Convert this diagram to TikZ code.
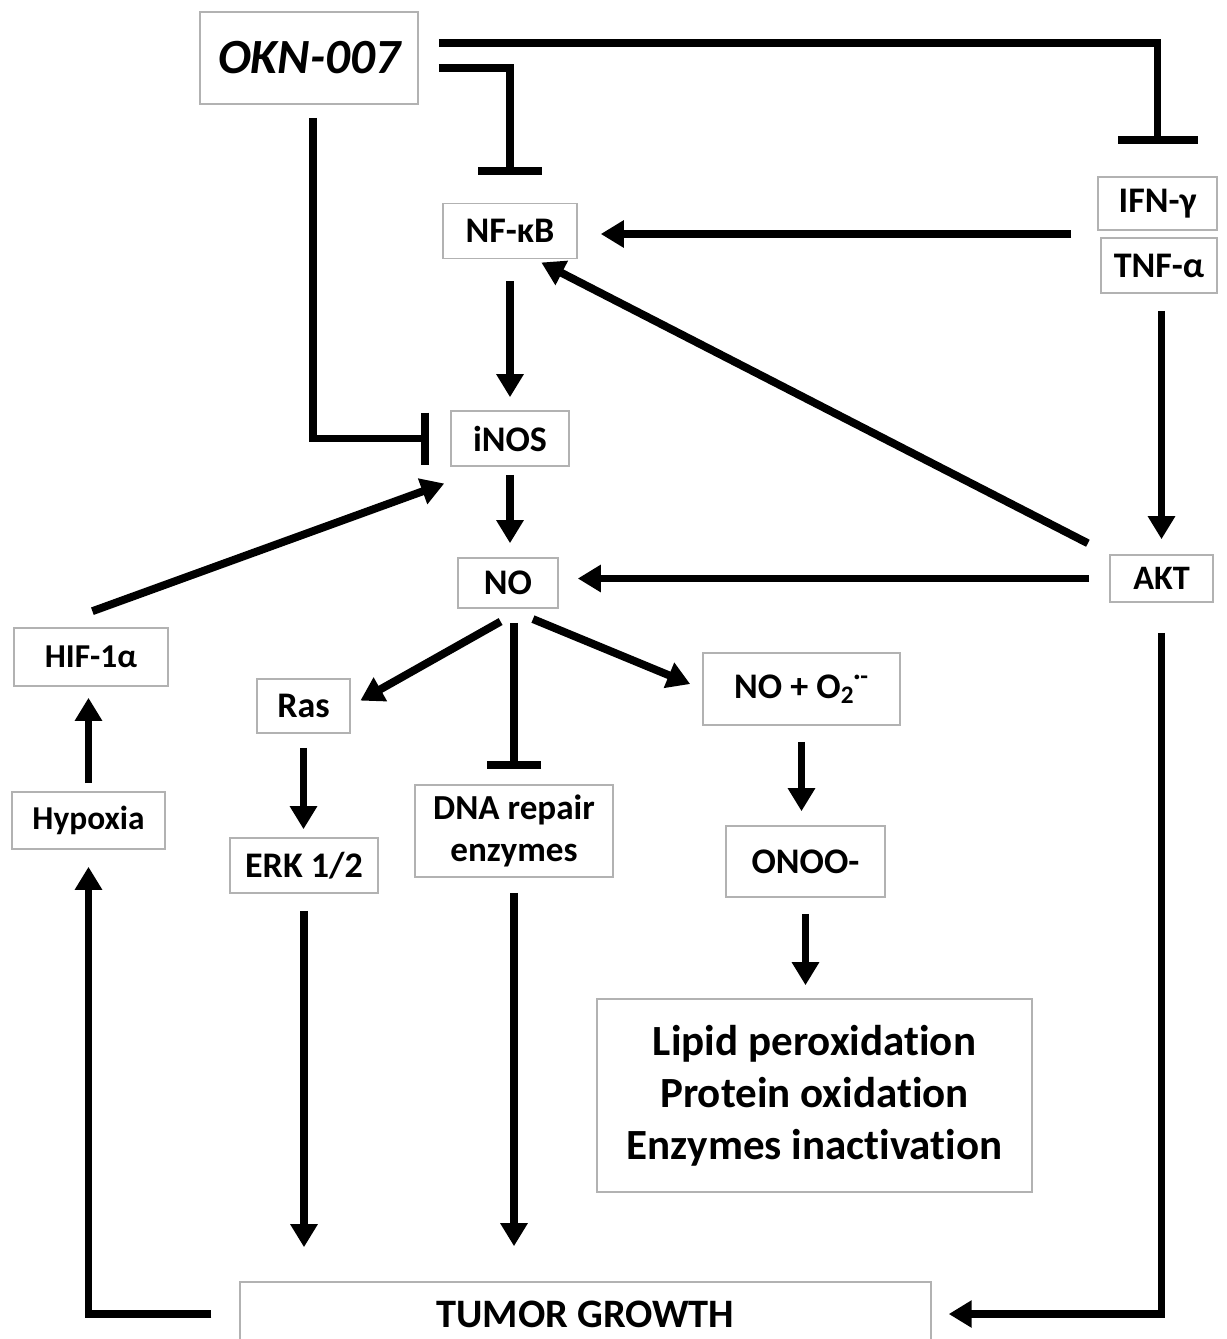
\documentclass[tikz,border=0pt]{standalone}
\usepackage{fontspec}
\setmainfont{Carlito}[Ligatures=NoCommon]
\usetikzlibrary{arrows.meta,calc}

\begin{document}
\begin{tikzpicture}[x=0.02cm, y=-0.02cm,
  box/.style={draw=gray!60, line width=0.9pt, fill=white, inner sep=0pt, align=center,
    font=\bfseries\fontsize{20.5}{24.5}\selectfont},
  act/.style={line width=4.5pt, -{Triangle[length=0.46cm, width=0.52cm]}},
  inh/.style={line width=4.5pt, -{Bar[width=#1]}}]
 \useasboundingbox (0,0) rectangle (1227,1339);
 % boxes
 \node[box, minimum width=4.36cm, minimum height=1.84cm,
   font=\bfseries\itshape\fontsize{28}{33}\selectfont] (okn) at (309,58) {OKN-007};
 \node[box, minimum width=2.68cm, minimum height=1.1cm] (nfkb) at (510,231) {NF-κB};
 \node[box, minimum width=2.38cm, minimum height=1.06cm] (ifn) at (1157.5,203.5) {IFN-γ};
 \node[box, minimum width=2.32cm, minimum height=1.1cm] (tnf) at (1159,265.5) {TNF-α};
 \node[box, minimum width=2.36cm, minimum height=1.1cm] (inos) at (510,438.5) {iNOS};
 \node[box, minimum width=2.0cm, minimum height=1.0cm] (no) at (508,583) {NO};
 \node[box, minimum width=2.06cm, minimum height=0.94cm,
   font=\bfseries\fontsize{19.5}{23}\selectfont] (akt) at (1161.5,578.5) {AKT};
 \node[box, minimum width=3.08cm, minimum height=1.16cm,
   font=\bfseries\fontsize{19}{23}\selectfont] (hif) at (91,657) {HIF-1α};
 \node[box, minimum width=1.86cm, minimum height=1.08cm] (ras) at (303.5,706) {Ras};
 \node[box, minimum width=3.94cm, minimum height=1.44cm] (nox) at (801.5,689)
   {NO + O\textsubscript{2}\kern-0.5pt\textsuperscript{·-}};
 \node[box, minimum width=3.06cm, minimum height=1.14cm,
   font=\bfseries\fontsize{19}{23}\selectfont] (hyp) at (88.5,820.5) {Hypoxia};
 \node[box, minimum width=2.96cm, minimum height=1.1cm] (erk) at (304,865.5) {ERK 1/2};
 \node[box, minimum width=3.96cm, minimum height=1.84cm,
   font=\bfseries\fontsize{20}{24}\selectfont] (dna) at (514,831) {DNA repair\\enzymes};
 \node[box, minimum width=3.18cm, minimum height=1.42cm] (onoo) at (805.5,861.5) {ONOO-};
 \node[box, minimum width=8.7cm, minimum height=3.86cm,
   font=\bfseries\fontsize{24.5}{29.5}\selectfont] (lipid) at (814.5,1095.5)
   {Lipid peroxidation\\Protein oxidation\\Enzymes inactivation};
 \node[box, minimum width=13.82cm, minimum height=1.28cm,
   font=\bfseries\fontsize{23}{28}\selectfont] (tumor) at (585.5,1314) {TUMOR GROWTH};
 % inhibitions by OKN-007
 \draw[inh=1.6cm, shorten >=0.64cm] ([shift={(20,-15)}]okn.east) -| (ifn.north);
 \draw[inh=1.28cm, shorten >=0.56cm] ([shift={(20,10)}]okn.east) -| (nfkb.north);
 \draw[inh=1.04cm, shorten >=0.42cm] ([shift={(4,13)}]okn.south) |- (inos.west);
 % upper part
 \coordinate (cyt) at ($(ifn.south west)!.5!(tnf.north west)$);
 \draw[act, shorten <=0.55cm, shorten >=0.46cm] (cyt) -- (cyt -| nfkb.east);
 \draw[act, shorten <=0.44cm, shorten >=0.26cm] (nfkb.south) -- (inos.north);
 \draw[act, shorten <=0.34cm, shorten >=0.3cm] (tnf.south -| akt.north) -- (akt.north);
 \draw[act, shorten <=0.48cm, shorten >=0.14cm] (akt.north west)
   -- ($(nfkb.south)!.37!(nfkb.south east)$);
 \draw[act, shorten <=0.16cm, shorten >=0.28cm] (inos.south) -- (inos.south |- no.north);
 \draw[act, shorten <=0.4cm, shorten >=0.38cm] (akt.west) -- (akt.west -| no.east);
 \draw[act, shorten <=0.94cm, shorten >=0.98cm] ($(hif.north west)!.45!(hif.north)$)
   -- ($(inos.south west)!.67!(inos.south)$);
 % below NO
 \draw[act, shorten <=0.52cm, shorten >=0.22cm] ($(no.south)!.3!(no.south east)$) -- (ras.east);
 \draw[inh=1.08cm, shorten <=0.28cm, shorten >=0.3cm] (no.south -| dna.north) -- (dna.north);
 \draw[act, shorten <=0.54cm, shorten >=0.26cm] (no.south) -- (nox.west);
 \draw[act, shorten <=0.16cm, shorten >=0.22cm] (hyp.north) -- (hyp.north |- hif.south);
 \draw[act, shorten <=0.28cm, shorten >=0.16cm] (ras.south) -- (ras.south |- erk.north);
 \draw[act, shorten <=0.32cm, shorten >=0.28cm] (nox.south) -- (nox.south |- onoo.north);
 \draw[act, shorten <=0.32cm, shorten >=0.26cm] (onoo.south) -- (onoo.south |- lipid.north);
 \draw[act, shorten <=0.34cm, shorten >=0.68cm] (erk.south) -- (erk.south |- tumor.north);
 \draw[act, shorten <=0.3cm, shorten >=0.7cm] (dna.south) -- (dna.south |- tumor.north);
 % loops through tumor growth
 \draw[act, shorten <=0.56cm, shorten >=0.34cm] (tumor.west) -| (hyp.south);
 \draw[act, shorten <=0.6cm, shorten >=0.34cm] (akt.south) |- (tumor.east);
\end{tikzpicture}
\end{document}
